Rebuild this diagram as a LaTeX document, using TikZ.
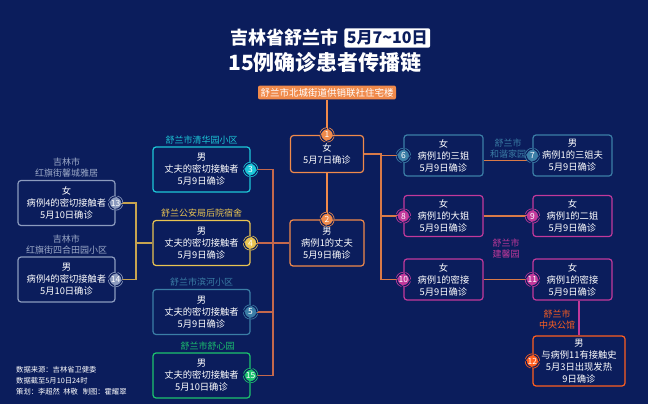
\documentclass[tikz,border=0pt]{standalone}
\usepackage{fontspec}
\usetikzlibrary{positioning}
\newfontfamily\cjk{Noto Sans CJK SC}
\definecolor{chainNavy}{HTML}{0B1D5C}
\definecolor{chainOrange}{HTML}{F08A4B}
\definecolor{chainSteel}{HTML}{3B7EA6}
\definecolor{chainMagenta}{HTML}{C2399B}
\definecolor{chainCyan}{HTML}{1CC7D8}
\definecolor{chainGold}{HTML}{E9C452}
\definecolor{chainGreen}{HTML}{1CC36E}
\definecolor{chainGrey}{HTML}{8C9BBE}
\definecolor{chainRed}{HTML}{FF5F1F}
\definecolor{chainLine}{HTML}{D97A48}
\definecolor{chainBrown}{HTML}{C4684C}
\definecolor{chainOchre}{HTML}{C7A450}
\pgfdeclarelayer{back}
\pgfdeclarelayer{bg}
\pgfsetlayers{back,bg,main}
\tikzset{
  casebox/.style={rectangle, rounded corners=3pt, draw=#1, line width=1.2pt, fill=chainNavy, text=white, align=center, minimum width=97pt, minimum height=45pt, inner sep=1pt, font=\cjk\fontsize{9.3}{12}\selectfont},
  smallbox/.style={casebox=#1, minimum width=79pt, minimum height=41pt},
  badge/.style={circle, minimum size=12.5pt, inner sep=0pt, fill=#1, draw=#1, line width=0.8pt, double=chainNavy, double distance=1.1pt, dash pattern=on 8pt off 1.8pt, text=white, font=\cjk\fontsize{8.5}{8.5}\selectfont},
  place/.style={text=#1, align=center, inner sep=1pt, font=\cjk\fontsize{9}{11}\selectfont},
  link/.style={draw=#1, line width=1.1pt}
}

\begin{document}
\begin{tikzpicture}[x=1pt, y=-1pt]
  \begin{pgfonlayer}{back}
    \fill[chainNavy] (0,0) rectangle (648,404);
  \end{pgfonlayer}
  \useasboundingbox (0,0) rectangle (648,404);

  % title
  \node[text=white, font=\cjk\bfseries\fontsize{18}{18}\selectfont, inner sep=0pt] (title) at (284,38) {吉林省舒兰市};
  \node[fill=white, text=chainNavy, rounded corners=2pt, font=\cjk\bfseries\fontsize{16}{16}\selectfont, inner sep=2.5pt, right=6pt of title] (dates) {5月7\textasciitilde10日};
  \node[text=white, font=\cjk\bfseries\fontsize{21}{21}\selectfont] (subtitle) at (325,62) {15例确诊患者传播链};
  \node[fill=chainOrange, text=white, rounded corners=2pt, font=\cjk\fontsize{9.5}{10}\selectfont, inner sep=2.5pt] (origin) at (327,92.5) {舒兰市北城街道供销联社住宅楼};

  % centre
  \node[casebox=chainOrange, minimum width=73pt, minimum height=37pt] (n1) at (327,154) {女\\5月7日确诊};
  \node[casebox=chainOrange, minimum width=74pt, minimum height=46pt] (n2) at (327,243) {男\\病例1的丈夫\\5月9日确诊};

  % left column
  \node[casebox=chainCyan] (n3) at (201.5,169.5) {男\\丈夫的密切接触者\\5月9日确诊};
  \node[casebox=chainGold] (n4) at (201.5,243) {男\\丈夫的密切接触者\\5月9日确诊};
  \node[casebox=chainSteel] (n5) at (201.5,312) {男\\丈夫的密切接触者\\5月9日确诊};
  \node[casebox=chainGreen] (n15) at (201.5,375.5) {男\\丈夫的密切接触者\\5月10日确诊};
  \node[casebox=chainGrey] (n13) at (66.5,203) {女\\病例4的密切接触者\\5月10日确诊};
  \node[casebox=chainGrey] (n14) at (66.5,279.5) {男\\病例4的密切接触者\\5月10日确诊};

  % right columns
  \node[smallbox=chainSteel] (n6) at (443.5,155.5) {女\\病例1的三姐\\5月9日确诊};
  \node[smallbox=chainSteel] (n7) at (572.5,155.5) {男\\病例1的三姐夫\\5月9日确诊};
  \node[smallbox=chainMagenta] (n8) at (443.5,216) {女\\病例1的大姐\\5月9日确诊};
  \node[smallbox=chainMagenta] (n9) at (572.5,216) {女\\病例1的二姐\\5月9日确诊};
  \node[smallbox=chainMagenta] (n10) at (443.5,279.5) {女\\病例1的密接\\5月9日确诊};
  \node[smallbox=chainMagenta] (n11) at (572.5,279.5) {女\\病例1的密接\\5月9日确诊};
  \node[casebox=chainRed, minimum width=92pt, minimum height=50pt] (n12) at (579,361) {男\\与病例11有接触史\\5月3日出现发热\\9日确诊};

  % place labels
  \node[place=chainCyan, above=1pt of n3] (p3) {舒兰市清华园小区};
  \node[place=chainGold, above=1pt of n4] (p4) {舒兰公安局后院宿舍};
  \node[place=chainSteel, above=1pt of n5] (p5) {舒兰市滨河小区};
  \node[place=chainGreen, above=1pt of n15, xshift=6pt] (p15) {舒兰市舒心园};
  \node[place=chainGrey!85!white, above=1pt of n13] (p13) {吉林市\\红旗街馨城雅居};
  \node[place=chainGrey!85!white, above=1pt of n14] (p14) {吉林市\\红旗街四合田园小区};
  \node[place=chainSteel] (p7) at (508,149) {舒兰市\\和谐家园};
  \node[place=chainMagenta] (p9) at (506,248.5) {舒兰市\\建馨园};
  \node[place=chainRed] (p12) at (557,319.5) {舒兰市\\中央公馆};

  % badges
  \node[badge=chainOrange] (b1) at (n1.north) {1};
  \node[badge=chainOrange] (b2) at (n2.north) {2};
  \node[badge=chainCyan] (b3) at (n3.east) {3};
  \node[badge=chainGold] (b4) at (n4.east) {4};
  \node[badge=chainSteel] (b5) at (n5.east) {5};
  \node[badge=chainSteel] (b6) at (n6.west) {6};
  \node[badge=chainSteel] (b7) at (n7.west) {7};
  \node[badge=chainMagenta] (b8) at (n8.west) {8};
  \node[badge=chainMagenta] (b9) at (n9.west) {9};
  \node[badge=chainMagenta] (b10) at (n10.west) {10};
  \node[badge=chainMagenta] (b11) at (n11.west) {11};
  \node[badge=chainRed] (b12) at (n12.west) {12};
  \node[badge=chainGrey] (b13) at (n13.east) {13};
  \node[badge=chainGrey] (b14) at (n14.east) {14};
  \node[badge=chainGreen] (b15) at (n15.east) {15};

  % credits
  \node[text=white, align=left, anchor=north west, inner sep=0pt, font=\cjk\fontsize{7.3}{11}\selectfont] (credits) at (16,366) {数据来源：吉林省卫健委\\数据截至5月10日24时\\策划：李超然\ \ 林敬\ \ \ 制图：霍耀翠};

  % connectors
  \coordinate (rtrunk) at (381,154);
  \coordinate (ltrunk) at (273,169.5);
  \coordinate (gtrunk) at (136,203);
  \begin{pgfonlayer}{bg}
    \draw[link=chainOrange] (origin.south) -- (b1.center);
    \draw[link=chainOrange] (n1.south) -- (b2.center);
    \draw[link=chainLine] (n1.east) -- (rtrunk) -- (rtrunk |- b10) -- (b10.center);
    \draw[link=chainLine] (rtrunk |- b6) -- (b6.center);
    \draw[link=chainLine] (rtrunk |- b8) -- (b8.center);
    \draw[link=chainLine] ([yshift=-5pt]n6.east) -- ([yshift=-5pt]b7.center);
    \draw[link=chainLine] (n8.east) -- (b9.center);
    \draw[link=chainLine] (n10.east) -- (b11.center);
    \draw[link=chainMagenta] (n11.south -| n12.north) -- (n12.north);
    \draw[link=chainBrown] (b3.center) -- (ltrunk) -- (ltrunk |- b15) -- (b15.center);
    \draw[link=chainBrown] (b5.center) -- (ltrunk |- b5);
    \draw[link=chainBrown] (b4.center) -- (n2.west);
    \draw[link=chainOchre] (b13.center) -- (gtrunk) -- (gtrunk |- b14) -- (b14.center);
    \draw[link=chainOchre] (gtrunk |- n4) -- (n4.west);
  \end{pgfonlayer}
\end{tikzpicture}
\end{document}
